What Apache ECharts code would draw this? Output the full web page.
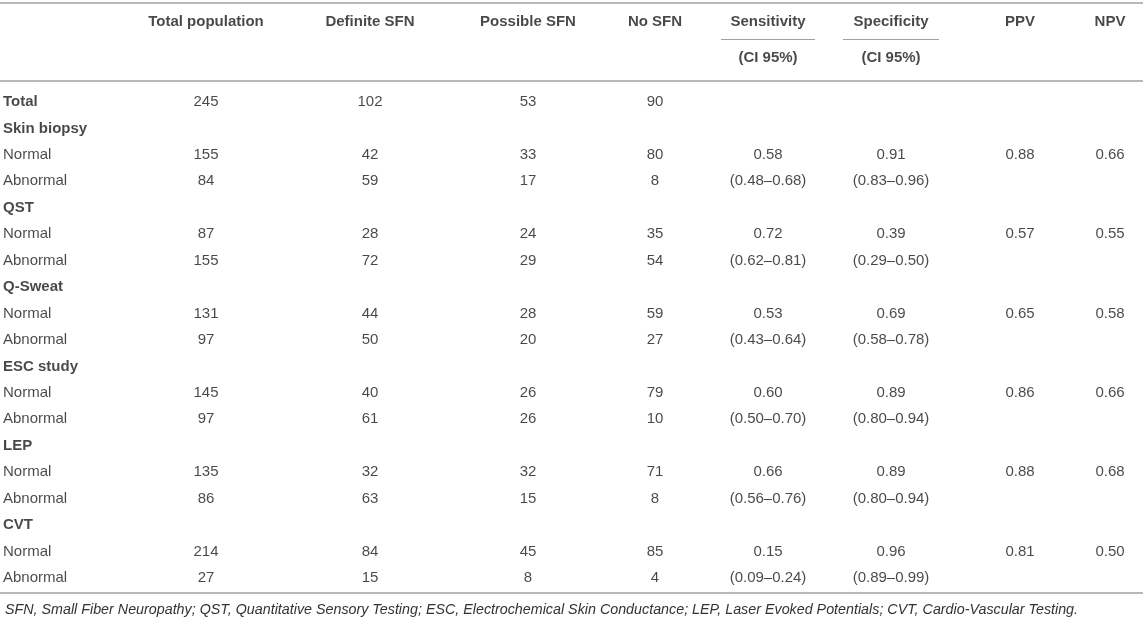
<!DOCTYPE html>
<html lang="en">
<head>
    <meta charset="UTF-8">
    <title>SFN diagnostic tests</title>
    <style>
        * { padding: 0; margin: 0; box-sizing: border-box; }
        html, body { width: 100%; height: 100%; overflow: hidden; background: #fff; }
        #box { width: 1143px; height: 627px; }
    </style>
</head>
<body>
    <div id="box"></div>
</body>
<script src="https://cdn.jsdelivr.net/npm/echarts@6/dist/echarts.min.js"></script>
<script>
    // ---- data ----
    var headers = ['Total population', 'Definite SFN', 'Possible SFN', 'No SFN', 'Sensitivity', 'Specificity', 'PPV', 'NPV'];
    var subHeaders = ['', '', '', '', '(CI 95%)', '(CI 95%)', '', ''];
    var totalRow = [245, 102, 53, 90];
    var groups = ['Skin biopsy', 'QST', 'Q-Sweat', 'ESC study', 'LEP', 'CVT'];
    var outcomes = ['Normal', 'Abnormal'];
    var totalPop = [[155, 84], [87, 155], [131, 97], [145, 97], [135, 86], [214, 27]];
    var definiteSfn = [[42, 59], [28, 72], [44, 50], [40, 61], [32, 63], [84, 15]];
    var possibleSfn = [[33, 17], [24, 29], [28, 20], [26, 26], [32, 15], [45, 8]];
    var noSfn = [[80, 8], [35, 54], [59, 27], [79, 10], [71, 8], [85, 4]];
    var sensitivity = ['0.58', '0.72', '0.53', '0.60', '0.66', '0.15'];
    var sensCI = ['0.48–0.68', '0.62–0.81', '0.43–0.64', '0.50–0.70', '0.56–0.76', '0.09–0.24'];
    var specificity = ['0.91', '0.39', '0.69', '0.89', '0.89', '0.96'];
    var specCI = ['0.83–0.96', '0.29–0.50', '0.58–0.78', '0.80–0.94', '0.80–0.94', '0.89–0.99'];
    var ppv = ['0.88', '0.57', '0.65', '0.86', '0.88', '0.81'];
    var npv = ['0.66', '0.55', '0.58', '0.66', '0.68', '0.50'];
    var footnote = 'SFN, Small Fiber Neuropathy; QST, Quantitative Sensory Testing; ESC, Electrochemical Skin Conductance; LEP, Laser Evoked Potentials; CVT, Cardio-Vascular Testing.';

    // ---- layout ----
    var W = 1143;
    var labelX = 3;
    var colCenter = [206, 370, 528, 655, 768, 891, 1020, 1110];
    var font = '"Liberation Sans", Arial, Helvetica, sans-serif';
    var textColor = '#1a1a1a';
    var ruleColor = '#a0a0a0';

    // build the body rows
    var rows = [];
    rows.push({ label: 'Total', bold: true, cells: totalRow.map(String).concat(['', '', '', '']) });
    for (var g = 0; g < groups.length; g++) {
        rows.push({ label: groups[g], bold: true, cells: ['', '', '', '', '', '', '', ''] });
        for (var o = 0; o < 2; o++) {
            var cells = [
                String(totalPop[g][o]), String(definiteSfn[g][o]), String(possibleSfn[g][o]), String(noSfn[g][o]),
                o === 0 ? sensitivity[g] : '(' + sensCI[g] + ')',
                o === 0 ? specificity[g] : '(' + specCI[g] + ')',
                o === 0 ? ppv[g] : '',
                o === 0 ? npv[g] : ''
            ];
            rows.push({ label: outcomes[o], bold: false, cells: cells });
        }
    }
    var rowKeys = rows.map(function (r, i) { return String(i); });

    var labelData = rows.map(function (r, i) {
        return {
            value: [labelX, String(i), r.label],
            label: { fontWeight: r.bold ? 'bold' : 'normal' }
        };
    });
    var cellData = [];
    rows.forEach(function (r, i) {
        r.cells.forEach(function (t, c) {
            if (t !== '') cellData.push([colCenter[c], String(i), t]);
        });
    });
    var headerData = [];
    headers.forEach(function (h, c) {
        headerData.push([colCenter[c], 'h0', h]);
        if (subHeaders[c]) headerData.push([colCenter[c], 'h1', subHeaders[c]]);
    });

    var textSeries = function (name, gridIdx, data, align, weight) {
        return {
            name: name,
            type: 'scatter',
            xAxisIndex: gridIdx,
            yAxisIndex: gridIdx,
            symbolSize: 0,
            silent: true,
            data: data,
            label: {
                show: true,
                position: 'inside',
                align: align,
                verticalAlign: 'middle',
                fontFamily: font,
                fontSize: 15,
                fontWeight: weight,
                color: textColor,
                formatter: function (p) { return p.value[2]; }
            }
        };
    };

    var box = echarts.init(document.getElementById('box'), null, { renderer: 'canvas' });
    var hiddenX = { type: 'value', min: 0, max: W, show: false };
    var option = {
        backgroundColor: '#fff',
        animation: false,
        title: {
            text: footnote,
            left: 0,
            top: 598,
            textStyle: { fontFamily: font, fontSize: 14.3, fontStyle: 'italic', fontWeight: 'normal', color: '#333' }
        },
        grid: [
            { left: 0, width: W, top: 4, height: 72 },
            { left: 0, width: W, top: 88.8, height: 502.4 }
        ],
        xAxis: [
            Object.assign({ gridIndex: 0 }, hiddenX),
            Object.assign({ gridIndex: 1 }, hiddenX)
        ],
        yAxis: [
            { type: 'category', gridIndex: 0, data: ['h0', 'h1'], inverse: true, show: false },
            { type: 'category', gridIndex: 1, data: rowKeys, inverse: true, show: false }
        ],
        graphic: [
            { type: 'line', shape: { x1: 0, y1: 3, x2: W, y2: 3 }, style: { stroke: ruleColor, lineWidth: 1.5 } },
            { type: 'line', shape: { x1: 0, y1: 81, x2: W, y2: 81 }, style: { stroke: ruleColor, lineWidth: 1.5 } },
            { type: 'line', shape: { x1: 0, y1: 593, x2: W, y2: 593 }, style: { stroke: ruleColor, lineWidth: 1.5 } },
            { type: 'line', shape: { x1: 721, y1: 39.5, x2: 815, y2: 39.5 }, style: { stroke: ruleColor, lineWidth: 1 } },
            { type: 'line', shape: { x1: 843, y1: 39.5, x2: 939, y2: 39.5 }, style: { stroke: ruleColor, lineWidth: 1 } }
        ],
        series: [
            textSeries('header', 0, headerData, 'center', 'bold'),
            textSeries('rowLabel', 1, labelData, 'left', 'normal'),
            textSeries('cells', 1, cellData, 'center', 'normal')
        ]
    };
    box.setOption(option);
</script>
</html>
